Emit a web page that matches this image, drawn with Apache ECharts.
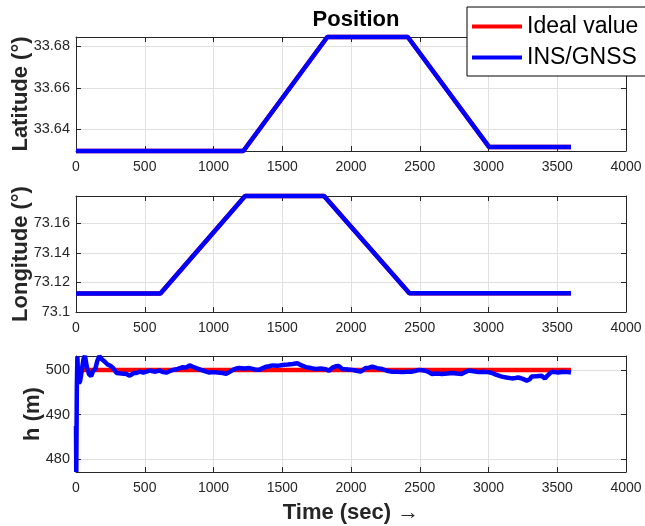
<!DOCTYPE html>
<html>
<head>
<meta charset="utf-8">
<script src="https://cdn.jsdelivr.net/npm/echarts@6/dist/echarts.min.js"></script>
<style>
html,body{margin:0;padding:0;background:#fff}
#main{width:645px;height:526px}
</style>
</head>
<body>
<div id="main"></div>
<script>
// time axis ticks (sec)
var timeMin = 0, timeMax = 4000, timeStep = 500;

// latitude (deg)
var latTime = [0, 1217, 1828, 2413, 3005, 3600];
var latIdeal = [33.6296, 33.6296, 33.6845, 33.6845, 33.6315, 33.6315];
var latIns = [33.6296, 33.6296, 33.6845, 33.6845, 33.6315, 33.6315];
var latTicks = [33.64, 33.66, 33.68];

// longitude (deg)
var lonTime = [0, 614, 1230, 1804, 2425, 3600];
var lonIdeal = [73.1125, 73.1125, 73.1785, 73.1785, 73.1127, 73.1127];
var lonIns = [73.1125, 73.1125, 73.1785, 73.1785, 73.1127, 73.1127];
var lonTicks = [73.1, 73.12, 73.14, 73.16];

// height (m)
var hIdealTime = [0, 3600];
var hIdeal = [500, 500];
var hTime = [0, 2, 6, 10, 16, 22, 30, 40, 55, 65, 80, 95, 110, 125, 140, 155, 170, 190, 210, 230,
  250, 270, 295, 330, 367, 391, 420, 440, 464, 490, 512, 536, 570, 609, 630, 657, 680, 705, 740, 777,
  800, 826, 850, 874, 910, 947, 970, 995, 1030, 1067, 1092, 1115, 1140, 1165, 1188, 1225, 1261, 1300, 1333, 1360,
  1381, 1405, 1430, 1465, 1502, 1540, 1575, 1610, 1640, 1671, 1710, 1744, 1780, 1816, 1840, 1865, 1889, 1910, 1937, 1975,
  2010, 2040, 2070, 2106, 2130, 2155, 2190, 2227, 2260, 2299, 2335, 2372, 2410, 2444, 2470, 2493, 2520, 2541, 2565, 2589,
  2625, 2662, 2700, 2734, 2770, 2807, 2830, 2855, 2890, 2928, 2965, 3000, 3025, 3049, 3075, 3097, 3130, 3169, 3195, 3217,
  3250, 3278, 3300, 3314, 3350, 3386, 3410, 3435, 3459, 3485, 3507, 3540, 3580, 3600];
var hIns = [487.5, 477.2, 496, 503, 498, 497, 497.5, 499.5, 502.5, 503.1, 500.5, 499, 498.6, 499.8, 500.2, 502, 503.1, 502.3, 501.8, 501.2,
  500.9, 500.4, 499.3, 499.2, 499.1, 498.7, 499.3, 499.3, 499.6, 499.4, 499.6, 499.85, 499.6, 499.85, 499.5, 499.4, 499.7, 500, 500.2, 500.6,
  500.5, 501, 500.7, 500.4, 500, 499.6, 499.4, 499.5, 499.4, 499.3, 499.1, 499.5, 500, 500.3, 500.4, 500.3, 500.4, 500.1, 500, 500.4,
  500.7, 500.8, 501, 500.9, 501.1, 501.2, 501.3, 501.5, 501, 500.6, 500.4, 500.2, 500.3, 500.15, 499.8, 500.5, 500.8, 500.9, 500.2, 500.1,
  500, 499.8, 499.6, 500.4, 500.5, 500.7, 500.4, 500.2, 499.8, 499.6, 499.6, 499.5, 499.6, 499.6, 499.8, 500, 499.9, 499.8, 499.5, 499.1,
  499.2, 499.1, 499.2, 499.3, 499.2, 499.1, 499.5, 499.85, 499.7, 499.5, 499.6, 499.5, 499.3, 499, 498.7, 498.5, 498.3, 498.1, 498.2, 498.3,
  498, 497.6, 497.9, 498.5, 498.6, 498.7, 498.1, 498.9, 499.6, 499.5, 499.4, 499.6, 499.5, 499.4];
var hTicks = [480, 490, 500];

var FONT = 'Liberation Sans, Arial, sans-serif';
var INK = '#262626';
var GRIDC = '#e0e0e0';

function zip(xs, ys){
	var out = [];
	for(var i = 0; i < xs.length; i++){
		out.push([xs[i], ys[i]]);
	}
	return out;
}

function fmt(v){
	return String(parseFloat(Number(v).toFixed(4)));
}

// panel boxes (px)
var panels = [
	{top: 37, height: 114, min: 33.6296, max: 33.6845, ticks: latTicks, name: 'Latitude (°)', gap: 44},
	{top: 196, height: 116, min: 73.1, max: 73.1785, ticks: lonTicks, name: 'Longitude (°)', gap: 44},
	{top: 356, height: 116, min: 477.2, max: 503.1, ticks: hTicks, name: 'h (m)', gap: 32}
];

var grids = [], xAxes = [], yAxes = [];
for(var i = 0; i < panels.length; i++){
	var p = panels[i];
	grids.push({left: 76, right: 19, top: p.top, height: p.height, containLabel: false, outerBoundsMode: 'none'});
	// bottom x
	xAxes.push({
		type: 'value', gridIndex: i, position: 'bottom', min: timeMin, max: timeMax, interval: timeStep,
		axisLine: {show: true, onZero: false, lineStyle: {color: INK, width: 1}},
		axisTick: {show: true, inside: true, length: 5, lineStyle: {color: INK}},
		axisLabel: {color: INK, fontFamily: FONT, fontSize: 14, margin: 9, formatter: fmt,
			alignMinLabel: 'center', alignMaxLabel: 'center', hideOverlap: false},
		splitLine: {show: true, lineStyle: {color: GRIDC, width: 1}},
		name: i == 2 ? 'Time (sec) \u2192' : '',
		nameLocation: 'middle', nameGap: 30, nameMoveOverlap: false,
		nameTextStyle: {color: INK, fontFamily: FONT, fontSize: 22, fontWeight: 'bold'}
	});
	// top x (box)
	xAxes.push({
		type: 'value', gridIndex: i, position: 'top', min: timeMin, max: timeMax, interval: timeStep,
		axisLine: {show: true, onZero: false, lineStyle: {color: INK, width: 1}},
		axisTick: {show: true, inside: true, length: 5, lineStyle: {color: INK}},
		axisLabel: {show: false},
		splitLine: {show: false}
	});
	// left y
	yAxes.push({
		type: 'value', gridIndex: i, position: 'left', min: p.min, max: p.max,
		axisLine: {show: true, onZero: false, lineStyle: {color: INK, width: 1}},
		axisTick: {show: true, inside: true, length: 5, lineStyle: {color: INK}, customValues: p.ticks},
		axisLabel: {color: INK, fontFamily: FONT, fontSize: 14.5, margin: 6, customValues: p.ticks, formatter: fmt},
		splitLine: {show: true, lineStyle: {color: GRIDC, width: 1}},
		name: p.name, nameLocation: 'middle', nameRotate: 90, nameGap: p.gap, nameMoveOverlap: false,
		nameTextStyle: {color: INK, fontFamily: FONT, fontSize: 22, fontWeight: 'bold'}
	});
	// right y (box)
	yAxes.push({
		type: 'value', gridIndex: i, position: 'right', min: p.min, max: p.max,
		axisLine: {show: true, onZero: false, lineStyle: {color: INK, width: 1}},
		axisTick: {show: true, inside: true, length: 5, lineStyle: {color: INK}, customValues: p.ticks},
		axisLabel: {show: false, customValues: p.ticks},
		splitLine: {show: false}
	});
}

function lineSeries(name, color, xi, yi, data){
	return {
		name: name, type: 'line', xAxisIndex: xi, yAxisIndex: yi,
		data: data, showSymbol: false, symbol: 'none', clip: false, animation: false,
		lineStyle: {color: color, width: 4.5}, itemStyle: {color: color}
	};
}

var series = [
	lineSeries('Ideal value', '#ff0000', 0, 0, zip(latTime, latIdeal)),
	lineSeries('INS/GNSS', '#0000ff', 0, 0, zip(latTime, latIns)),
	lineSeries('Ideal value', '#ff0000', 2, 2, zip(lonTime, lonIdeal)),
	lineSeries('INS/GNSS', '#0000ff', 2, 2, zip(lonTime, lonIns)),
	lineSeries('Ideal value', '#ff0000', 4, 4, zip(hIdealTime, hIdeal)),
	lineSeries('INS/GNSS', '#0000ff', 4, 4, zip(hTime, hIns))
];

var myChart = echarts.init(document.getElementById('main'), null, {renderer: 'canvas'});
myChart.setOption({
	animation: false,
	backgroundColor: '#fff',
	title: {
		text: 'Position', left: 351, top: 4, textAlign: 'center',
		textStyle: {color: '#000', fontFamily: FONT, fontSize: 22, fontWeight: 'bold'}
	},
	legend: {
		data: ['Ideal value', 'INS/GNSS'],
		orient: 'vertical', left: 467, top: 7,
		icon: 'rect', itemWidth: 50, itemHeight: 4, itemGap: 8,
		padding: [8, 12, 7, 5],
		backgroundColor: '#fff', borderColor: '#000', borderWidth: 1, borderRadius: 0,
		textStyle: {color: '#000', fontFamily: FONT, fontSize: 23},
		z: 10
	},
	grid: grids,
	xAxis: xAxes,
	yAxis: yAxes,
	series: series
});
</script>
</body>
</html>
